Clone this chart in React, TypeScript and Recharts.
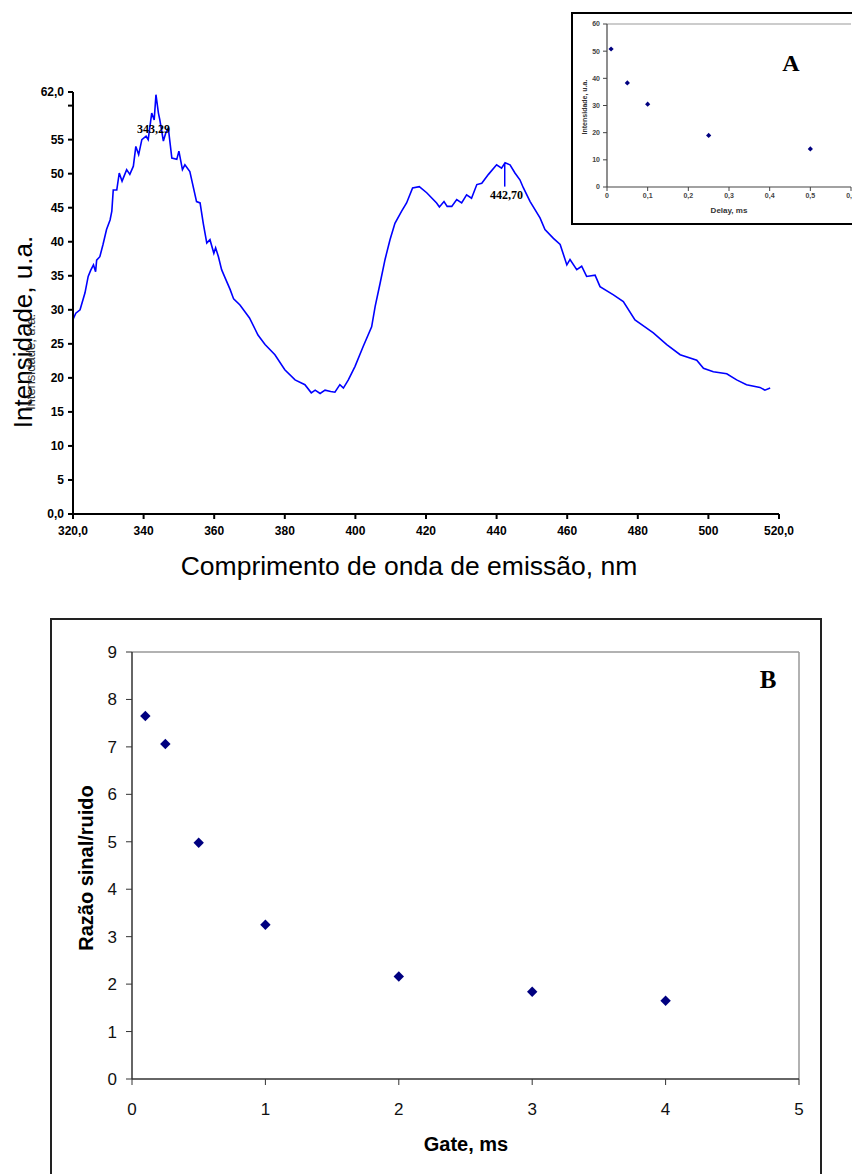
import React from 'react';
import {
  LineChart,
  Line,
  XAxis,
  YAxis,
  ScatterChart,
  Scatter,
  ReferenceLine,
  ReferenceDot,
} from 'recharts';

// ---- Emission spectrum (main chart) ----
const wavelengths = [
  320.0, 320.8, 322.0, 323.4, 324.3, 325.0, 325.8, 326.4, 326.7, 327.6, 328.5, 329.5, 330.5, 331.0,
  331.4, 332.4, 333.1, 333.9, 335.2, 336.1, 337.1, 337.8, 338.6, 339.5, 340.7, 341.3, 342.3, 343.0,
  343.5, 344.2, 344.6, 345.6, 346.3, 347.0, 348.0, 349.4, 350.0, 351.0, 351.7, 353.1, 355.0, 356.0,
  356.9, 357.9, 358.8, 359.9, 360.4, 361.2, 362.1, 363.0, 364.5, 365.5, 367.3, 370.0, 372.4, 374.4,
  377.2, 380.0, 382.9, 385.7, 387.5, 388.6, 390.0, 391.4, 393.0, 394.2, 395.6, 396.6, 398.0, 399.9,
  402.2, 404.6, 405.6, 407.0, 408.4, 409.8, 411.2, 413.1, 414.5, 416.2, 418.1, 420.2, 423.0, 423.8,
  425.1, 426.0, 427.3, 428.7, 430.1, 431.5, 432.9, 434.4, 435.8, 437.7, 440.0, 441.4, 442.4, 443.8,
  445.2, 446.6, 447.6, 449.5, 452.3, 453.7, 456.1, 458.0, 459.9, 460.8, 462.7, 464.1, 465.5, 467.9,
  469.3, 473.1, 475.9, 479.2, 482.0, 484.4, 488.2, 492.0, 496.7, 498.6, 501.4, 505.2, 508.0, 510.8,
  514.6, 516.0, 517.5,
];
const intensities = [
  28.6, 29.5, 30.0, 32.5, 34.9, 35.8, 36.6, 35.6, 37.3, 37.8, 39.6, 41.8, 43.2, 44.5,
  47.6, 47.6, 50.1, 48.9, 50.6, 49.9, 51.1, 54.0, 52.8, 55.0, 55.5, 55.0, 58.9, 57.9,
  61.6, 58.9, 57.9, 54.8, 56.0, 56.7, 52.3, 52.1, 53.3, 50.6, 51.3, 50.3, 45.9, 45.7,
  42.7, 39.8, 40.3, 38.3, 39.1, 37.8, 35.9, 34.8, 33.0, 31.6, 30.7, 28.8, 26.3, 24.9,
  23.4, 21.2, 19.7, 19.0, 17.8, 18.2, 17.7, 18.2, 18.0, 17.9, 19.0, 18.5, 19.7, 21.7,
  24.6, 27.5, 30.5, 33.9, 37.4, 40.3, 42.7, 44.5, 45.7, 47.9, 48.1, 47.2, 45.7, 45.1,
  45.9, 45.2, 45.2, 46.2, 45.7, 46.9, 46.4, 48.4, 48.6, 49.9, 51.3, 50.8, 51.6, 51.3,
  50.1, 49.1, 47.9, 45.9, 43.5, 41.8, 40.5, 39.6, 36.6, 37.4, 35.9, 36.4, 34.9, 35.1,
  33.4, 32.2, 31.2, 28.5, 27.5, 26.6, 24.9, 23.4, 22.6, 21.4, 20.9, 20.6, 19.7, 19.0,
  18.6, 18.2, 18.5,
];
const specXTicks = [320, 340, 360, 380, 400, 420, 440, 460, 480, 500, 520];
const specYTicks = [0, 5, 10, 15, 20, 25, 30, 35, 40, 45, 50, 55, 60, 62];
const peak1Label = '343,29';
const peak2Label = '442,70';

// ---- Inset A ----
const delayMs = [0.01, 0.05, 0.1, 0.25, 0.5];
const delayIntensity = [50.8, 38.3, 30.5, 19.0, 14.0];
const delayXTicks = [0, 0.1, 0.2, 0.3, 0.4, 0.5, 0.6];
const delayYTicks = [0, 10, 20, 30, 40, 50, 60];

// ---- Chart B ----
const gateMs = [0.1, 0.25, 0.5, 1, 2, 3, 4];
const snr = [7.65, 7.06, 4.98, 3.25, 2.16, 1.84, 1.65];
const gateXTicks = [0, 1, 2, 3, 4, 5];
const gateYTicks = [0, 1, 2, 3, 4, 5, 6, 7, 8, 9];

const specData = wavelengths.map((nm, i) => ({ nm, v: intensities[i] }));
const delayData = delayMs.map((x, i) => ({ x, y: delayIntensity[i] }));
const gateData = gateMs.map((x, i) => ({ x, y: snr[i] }));

const SANS = '"Liberation Sans", Arial, sans-serif';
const SERIF = '"Liberation Serif", "Times New Roman", serif';

const diamond = (r: number) => (props: any) => {
  const { cx, cy } = props;
  if (cx == null || cy == null) return <g />;
  return (
    <path
      d={`M${cx},${cy - r}L${cx + r},${cy}L${cx},${cy + r}L${cx - r},${cy}Z`}
      fill="#000080"
    />
  );
};

const comma = (v: number) => String(v).replace('.', ',');

const Txt: React.FC<{
  x: number;
  y: number;
  size: number;
  rotate?: boolean;
  bold?: boolean;
  family?: string;
  color?: string;
  children: React.ReactNode;
}> = ({ x, y, size, rotate, bold, family, color, children }) => (
  <div
    style={{
      position: 'absolute',
      left: x,
      top: y,
      transform: `translate(-50%, -50%)${rotate ? ' rotate(-90deg)' : ''}`,
      whiteSpace: 'nowrap',
      fontSize: size,
      fontWeight: bold ? 'bold' : 'normal',
      fontFamily: family || SANS,
      color: color || '#000',
      lineHeight: 1,
    }}
  >
    {children}
  </div>
);

export default function App() {
  return (
    <div
      style={{
        position: 'absolute',
        left: 0,
        top: 0,
        width: 852,
        height: 1174,
        overflow: 'hidden',
        background: '#fff',
      }}
    >
      {/* Main spectrum chart */}
      <div style={{ position: 'absolute', left: 0, top: 0 }}>
        <LineChart
          width={852}
          height={600}
          data={specData}
          margin={{ top: 92, right: 73, left: 13, bottom: 56 }}
        >
          <XAxis
            dataKey="nm"
            type="number"
            domain={[320, 520]}
            ticks={specXTicks}
            allowDataOverflow
            height={30}
            tickSize={5}
            tickMargin={7}
            axisLine={{ stroke: '#000', strokeWidth: 2 }}
            tickLine={{ stroke: '#000', strokeWidth: 2 }}
            tick={{ fontSize: 12, fontWeight: 'bold', fill: '#000', fontFamily: SANS }}
            tickFormatter={(v: number) => (v === 320 || v === 520 ? `${v},0` : String(v))}
          />
          <YAxis
            type="number"
            domain={[0, 62]}
            ticks={specYTicks}
            allowDataOverflow
            width={60}
            tickSize={5}
            tickMargin={4}
            axisLine={{ stroke: '#000', strokeWidth: 2 }}
            tickLine={{ stroke: '#000', strokeWidth: 2 }}
            tick={{ fontSize: 12, fontWeight: 'bold', fill: '#000', fontFamily: SANS }}
            tickFormatter={(v: number) =>
              v === 0 ? '0,0' : v === 62 ? '62,0' : v === 60 ? '' : String(v)
            }
          />
          <Line
            type="linear"
            dataKey="v"
            stroke="#0000FF"
            strokeWidth={1.6}
            dot={false}
            isAnimationActive={false}
          />
          <ReferenceLine
            segment={[
              { x: 442.3, y: 51.5 },
              { x: 442.3, y: 48.1 },
            ]}
            stroke="#0000FF"
            strokeWidth={1.5}
          />
          <ReferenceDot
            x={342.8}
            y={56.6}
            r={0}
            fill="none"
            stroke="none"
            label={{
              value: peak1Label,
              position: 'center',
              fontSize: 12,
              fontWeight: 'bold',
              fontFamily: SERIF,
              fill: '#000',
            }}
          />
          <ReferenceDot
            x={442.8}
            y={46.9}
            r={0}
            fill="none"
            stroke="none"
            label={{
              value: peak2Label,
              position: 'center',
              fontSize: 12,
              fontWeight: 'bold',
              fontFamily: SERIF,
              fill: '#000',
            }}
          />
        </LineChart>
      </div>
      <Txt x={409} y={566} size={26.5}>
        Comprimento de onda de emissão, nm
      </Txt>
      <Txt x={23} y={332} size={26}>
        <span style={{ display: 'inline-block', transform: 'rotate(-90deg)' }}>Intensidade, u.a.</span>
      </Txt>
      <Txt x={30} y={362} size={13} rotate color="#333">
        Intensidade, u.a.
      </Txt>

      {/* Inset A */}
      <div
        style={{
          position: 'absolute',
          left: 571,
          top: 12,
          width: 290,
          height: 213,
          border: '2px solid #000',
          boxSizing: 'border-box',
          background: '#fff',
        }}
      >
        <ScatterChart
          width={286}
          height={209}
          margin={{ top: 10, right: 8, left: 9, bottom: 22 }}
        >
          <XAxis
            dataKey="x"
            type="number"
            domain={[0, 0.6]}
            ticks={delayXTicks}
            allowDataOverflow
            height={14}
            tickSize={4}
            tickMargin={2}
            axisLine={{ stroke: '#444', strokeWidth: 1.2 }}
            tickLine={{ stroke: '#444' }}
            tick={{ fontSize: 7, fontWeight: 'bold', fill: '#444', fontFamily: SANS }}
            tickFormatter={comma}
          />
          <YAxis
            dataKey="y"
            type="number"
            domain={[0, 60]}
            ticks={delayYTicks}
            allowDataOverflow
            width={25}
            tickSize={4}
            tickMargin={3}
            axisLine={{ stroke: '#444', strokeWidth: 1.2 }}
            tickLine={{ stroke: '#444' }}
            tick={{ fontSize: 7, fontWeight: 'bold', fill: '#444', fontFamily: SANS }}
          />
          <ReferenceLine y={60} stroke="#999" strokeWidth={1.2} />
          <Scatter data={delayData} shape={diamond(2.6)} isAnimationActive={false} />
        </ScatterChart>
      </div>
      <Txt x={729} y={211} size={8} bold color="#333">
        Delay, ms
      </Txt>
      <Txt x={584} y={107} size={7} bold rotate color="#333">
        Intensidade, u.a.
      </Txt>
      <Txt x={791} y={63} size={24} bold family={SERIF}>
        A
      </Txt>

      {/* Chart B */}
      <div
        style={{
          position: 'absolute',
          left: 50,
          top: 618,
          width: 772,
          height: 600,
          border: '2px solid #222',
          boxSizing: 'border-box',
          background: '#fff',
        }}
      >
        <ScatterChart
          width={768}
          height={596}
          margin={{ top: 32, right: 21, left: 39, bottom: 107 }}
        >
          <XAxis
            dataKey="x"
            type="number"
            domain={[0, 5]}
            ticks={gateXTicks}
            allowDataOverflow
            height={30}
            tickSize={6}
            tickMargin={18}
            axisLine={{ stroke: '#333', strokeWidth: 1.5 }}
            tickLine={{ stroke: '#333' }}
            tick={{ fontSize: 17, fill: '#111', fontFamily: SANS }}
          />
          <YAxis
            dataKey="y"
            type="number"
            domain={[0, 9]}
            ticks={gateYTicks}
            allowDataOverflow
            width={41}
            tickSize={6}
            tickMargin={9}
            axisLine={{ stroke: '#333', strokeWidth: 1.5 }}
            tickLine={{ stroke: '#333' }}
            tick={{ fontSize: 17, fill: '#111', fontFamily: SANS }}
          />
          <ReferenceLine y={9} stroke="#999" strokeWidth={1.5} />
          <ReferenceLine x={5} stroke="#999" strokeWidth={1.5} />
          <Scatter data={gateData} shape={diamond(5.2)} isAnimationActive={false} />
        </ScatterChart>
      </div>
      <Txt x={466} y={1144} size={20} bold>
        Gate, ms
      </Txt>
      <Txt x={86} y={868} size={20} bold rotate>
        Razão sinal/ruido
      </Txt>
      <Txt x={768} y={679} size={25} bold family={SERIF}>
        B
      </Txt>
    </div>
  );
}
